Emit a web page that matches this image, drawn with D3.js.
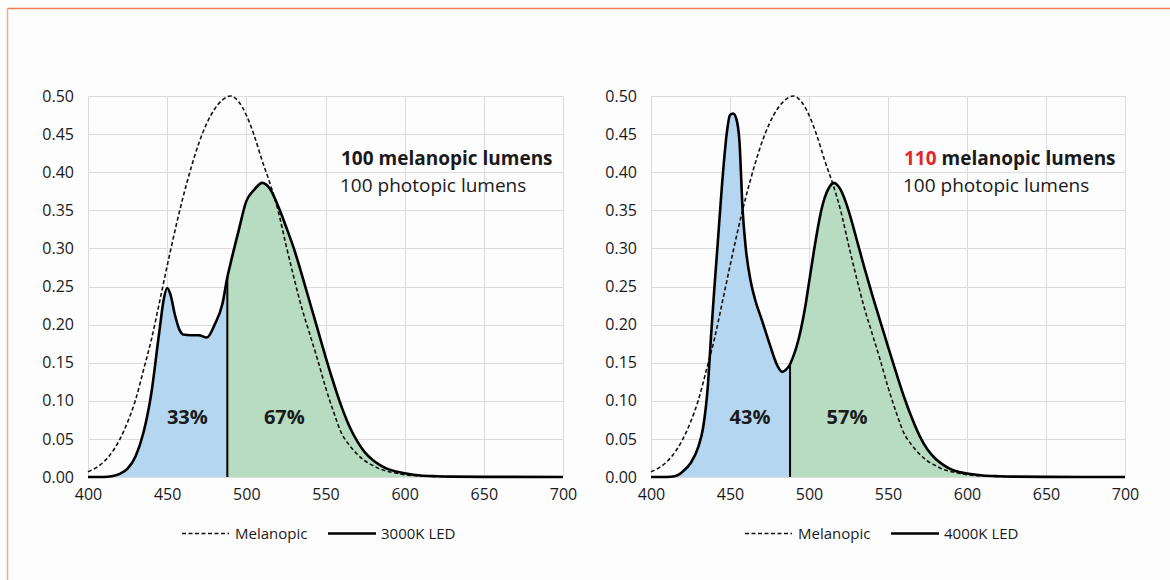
<!DOCTYPE html>
<html><head><meta charset="utf-8">
<script src="https://cdn.jsdelivr.net/npm/d3@7/dist/d3.min.js"></script>
<style>
body{margin:0;background:#ffffff;}
svg text{font-family:"Open Sans",sans-serif;fill:#1a1a1a;}
</style></head><body>
<svg id="chart" width="1170" height="580"></svg>
<script>
// ---- data ----
const melWl  = [400,405,410,415,420,425,430,435,440,445,450,455,460,465,470,475,480,485,490,495,500,505,510,515,520,525,530,535,540,545,550,555,560,565,570,575,580,585,590,595,600,610,620,630,650,700];
const melVal = [0.007,0.012,0.020,0.032,0.049,0.072,0.101,0.140,0.180,0.228,0.277,0.324,0.367,0.405,0.438,0.464,0.483,0.495,0.500,0.493,0.475,0.448,0.415,0.385,0.350,0.305,0.262,0.222,0.188,0.154,0.118,0.086,0.058,0.042,0.030,0.021,0.015,0.010,0.007,0.005,0.003,0.0014,0.0007,0.0003,0.0001,0];

const led3000Wl  = [400,405,410,415,420,425,430,435,440,445,448,450,452,455,458,460,465,470,475,480,485,488,490,495,500,505,510,515,520,525,530,535,540,545,550,555,560,565,570,575,580,585,590,595,600,610,620,630,650,700];
const led3000Val = [0,0,0,0.001,0.004,0.011,0.027,0.058,0.110,0.190,0.235,0.248,0.240,0.212,0.192,0.187,0.186,0.186,0.183,0.200,0.228,0.262,0.280,0.322,0.362,0.377,0.386,0.378,0.356,0.329,0.300,0.266,0.230,0.194,0.158,0.124,0.093,0.067,0.047,0.032,0.022,0.015,0.010,0.007,0.005,0.002,0.001,0.0005,0.0002,0];

const led4000Wl  = [400,405,410,415,420,425,430,433,436,438,440,442,445,448,450,452,454,456,458,460,463,466,470,475,480,483,485,488,490,492,495,498,500,503,505,508,510,513,516,518,520,525,530,535,540,545,550,555,560,565,570,575,580,585,590,595,600,610,620,630,650,700];
const led4000Val = [0,0,0,0.001,0.007,0.018,0.040,0.065,0.120,0.185,0.245,0.300,0.385,0.452,0.475,0.477,0.470,0.440,0.350,0.300,0.258,0.232,0.207,0.175,0.146,0.138,0.140,0.148,0.158,0.170,0.195,0.228,0.255,0.295,0.320,0.352,0.367,0.381,0.386,0.383,0.377,0.350,0.313,0.275,0.239,0.205,0.171,0.138,0.106,0.078,0.054,0.036,0.024,0.016,0.010,0.0065,0.0045,0.002,0.001,0.0005,0.0002,0];

const xTicks = [400,450,500,550,600,650,700];
const yTicks = [0,0.05,0.10,0.15,0.20,0.25,0.30,0.35,0.40,0.45,0.50];
const splitWl = 488;
const ledNames = ["3000K LED","4000K LED"];
const blueShares = ["33%","43%"];
const greenShares = ["67%","57%"];
const melLumens = ["100","110"];
const photLumens = ["100","100"];
const melName = "Melanopic";

// ---- layout / style ----
const W = 1170, H = 580;
const panelX = [[88,563],[651,1125]];
const plotTop = 96, plotBottom = 477;
const BLUE = "#b5d6f0", GREEN = "#b7dcc1", GRID = "#dcdcdc", RED = "#e3262b", INK = "#1a1a1a";

const svg = d3.select("#chart");
svg.append("rect").attr("width",W).attr("height",H).attr("fill","#fdfdfd");
svg.append("line").attr("x1",7.5).attr("x2",W).attr("y1",8.5).attr("y2",8.5).attr("stroke","#ef7e55").attr("stroke-width",1.5);
svg.append("line").attr("x1",7.5).attr("x2",7.5).attr("y1",8).attr("y2",H).attr("stroke","#f2a98c").attr("stroke-width",1.5);

const series = [
  {wl: led3000Wl, val: led3000Val},
  {wl: led4000Wl, val: led4000Val}
];
const melData = melWl.map((w,i)=>({w, v: melVal[i]}));

series.forEach((s, p) => {
  const [x0, x1] = panelX[p];
  const x = d3.scaleLinear().domain([400,700]).range([x0,x1]);
  const y = d3.scaleLinear().domain([0,0.5]).range([plotBottom,plotTop]);
  const g = svg.append("g");
  const data = s.wl.map((w,i)=>({w, v: s.val[i]}));

  // grid
  g.append("g").selectAll("line").data(yTicks).join("line")
    .attr("x1",x0).attr("x2",x1).attr("y1",d=>Math.round(y(d))+0.5).attr("y2",d=>Math.round(y(d))+0.5)
    .attr("stroke",GRID).attr("stroke-width",1);
  g.append("g").selectAll("line").data(xTicks).join("line")
    .attr("x1",d=>Math.round(x(d))+0.5).attr("x2",d=>Math.round(x(d))+0.5).attr("y1",plotTop).attr("y2",plotBottom)
    .attr("stroke",GRID).attr("stroke-width",1);

  // clip paths
  const xs = x(splitWl);
  const defs = svg.append("defs");
  defs.append("clipPath").attr("id","cb"+p).append("rect")
    .attr("x",x0).attr("y",plotTop-10).attr("width",xs-x0).attr("height",plotBottom-plotTop+10);
  defs.append("clipPath").attr("id","cg"+p).append("rect")
    .attr("x",xs).attr("y",plotTop-10).attr("width",x1-xs).attr("height",plotBottom-plotTop+10);

  const area = d3.area().x(d=>x(d.w)).y0(y(0)).y1(d=>y(d.v)).curve(d3.curveMonotoneX);
  g.append("path").datum(data).attr("d",area).attr("fill",BLUE).attr("clip-path",`url(#cb${p})`);
  g.append("path").datum(data).attr("d",area).attr("fill",GREEN).attr("clip-path",`url(#cg${p})`);

  const line = d3.line().x(d=>x(d.w)).y(d=>y(d.v)).curve(d3.curveMonotoneX);
  // melanopic dashed
  g.append("path").datum(melData).attr("d",line).attr("fill","none")
    .attr("stroke","#111").attr("stroke-width",1.6).attr("stroke-dasharray","4,2.5");
  // split line
  const splitV = s.val[s.wl.indexOf(splitWl)];
  g.append("line").attr("x1",xs).attr("x2",xs).attr("y1",y(0)).attr("y2",y(splitV))
    .attr("stroke","#000").attr("stroke-width",2);
  // LED solid
  g.append("path").datum(data).attr("d",line).attr("fill","none")
    .attr("stroke","#000").attr("stroke-width",2.6).attr("stroke-linejoin","round");

  // axes
  const ax = g.append("g").attr("transform",`translate(0,${plotBottom})`)
    .call(d3.axisBottom(x).tickValues(xTicks).tickSize(0).tickPadding(12).tickFormat(d3.format("d")));
  ax.select(".domain").remove();
  ax.selectAll("text").attr("font-size",16).attr("font-family","Open Sans").attr("fill",INK);
  const ay = g.append("g").attr("transform",`translate(${x0},0)`)
    .call(d3.axisLeft(y).tickValues(yTicks).tickSize(0).tickPadding(14).tickFormat(d3.format(".2f")));
  ay.select(".domain").remove();
  ay.selectAll("text").attr("font-size",16).attr("font-family","Open Sans").attr("fill",INK);

  // share labels
  g.append("text").attr("x",xs-40).attr("y",y(0.07)).attr("text-anchor","middle")
    .attr("font-size",20).attr("font-weight","bold").text(blueShares[p]);
  g.append("text").attr("x",xs+57).attr("y",y(0.07)).attr("text-anchor","middle")
    .attr("font-size",20).attr("font-weight","bold").text(greenShares[p]);

  // annotation
  const t1 = g.append("text").attr("x",x0+253).attr("y",165).attr("font-size",19).attr("font-weight","bold");
  t1.append("tspan").style("fill", p===1 ? RED : INK).text(melLumens[p]);
  t1.append("tspan").text(" melanopic lumens");
  g.append("text").attr("x",x0+252).attr("y",192).attr("font-size",19).text(photLumens[p]+" photopic lumens");

  // legend
  const ly = 533.5, lx = x0 + 94;
  g.append("line").attr("x1",lx).attr("x2",lx+47).attr("y1",ly).attr("y2",ly)
    .attr("stroke","#111").attr("stroke-width",1.6).attr("stroke-dasharray","4,2.5");
  g.append("text").attr("x",lx+53).attr("y",ly).attr("dy","0.36em").attr("font-size",15).text(melName);
  g.append("line").attr("x1",lx+146).attr("x2",lx+194).attr("y1",ly).attr("y2",ly)
    .attr("stroke","#000").attr("stroke-width",2.6);
  g.append("text").attr("x",lx+199).attr("y",ly).attr("dy","0.36em").attr("font-size",15).text(ledNames[p]);
});
</script>
</body></html>
